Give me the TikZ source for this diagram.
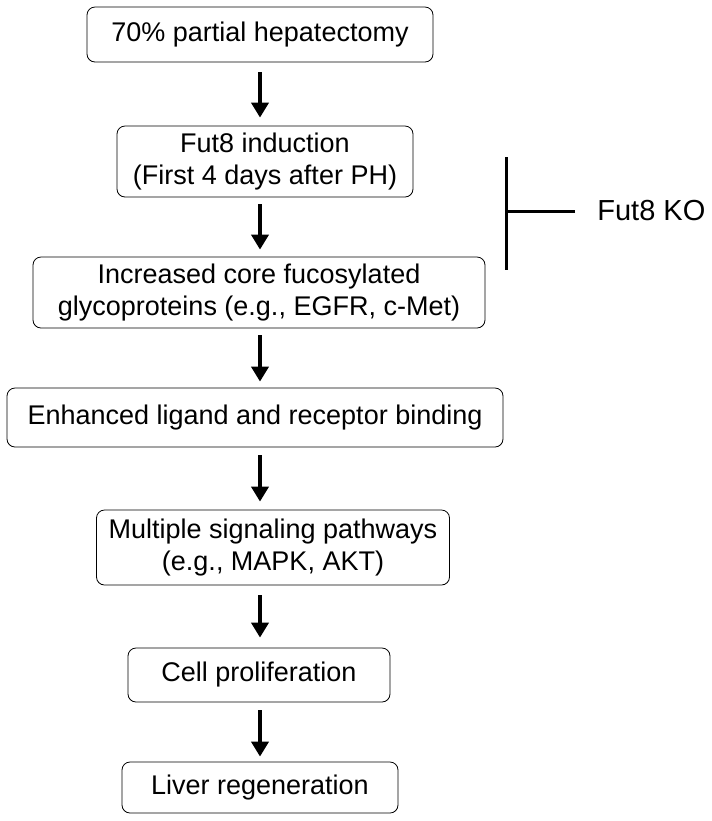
\documentclass[tikz,border=0pt]{standalone}
\usepackage{fontspec}
\setmainfont{Liberation Sans}
\usetikzlibrary{arrows.meta, positioning}
\tikzset{
	stepbox/.style={draw, thin, rounded corners=4pt, align=center, inner sep=2pt, font=\fontsize{13.5}{16}\selectfont},
	flow/.style={-{Triangle[length=7.5pt, width=8.5pt]}, line width=2pt},
	block/.style={line width=1.5pt},
}

\begin{document}
\begin{tikzpicture}[x=0.5pt, y=-0.5pt]

\useasboundingbox (0,0) rectangle (712,821);

\node[stepbox, minimum width=173pt, minimum height=27.5pt] (hep) at (260,34.5) {70\% partial hepatectomy};
\node[stepbox, minimum width=148pt, minimum height=35.5pt] (ind) at (265,161.5) {Fut8 induction\\ (First 4 days after PH)};
\node[stepbox, minimum width=226pt, minimum height=35.5pt] (fuc) at (259,292.5) {Increased core fucosylated\\glycoproteins (e.g., EGFR, c-Met)};
\node[stepbox, minimum width=248pt, minimum height=29.5pt] (bind) at (255,417.5) {Enhanced ligand and receptor binding};
\node[stepbox, minimum width=176.5pt, minimum height=37.5pt] (sig) at (273,547.5) {Multiple signaling pathways\\(e.g., MAPK, AKT)};
\node[stepbox, minimum width=131pt, minimum height=27pt] (prol) at (259,675) {Cell proliferation};
\node[stepbox, minimum width=138pt, minimum height=25.5pt] (reg) at (260,787.5) {Liver regeneration};

\coordinate (ax) at (260,0);
\draw[flow, shorten <=5pt, shorten >=4pt] (hep.south -| ax) -- (ind.north -| ax);
\draw[flow, shorten <=3.5pt, shorten >=3.5pt] (ind.south -| ax) -- (fuc.north -| ax);
\draw[flow, shorten <=3.5pt, shorten >=3pt] (fuc.south -| ax) -- (bind.north -| ax);
\draw[flow, shorten <=4pt, shorten >=4pt] (bind.south -| ax) -- (sig.north -| ax);
\draw[flow, shorten <=5pt, shorten >=5pt] (sig.south -| ax) -- (prol.north -| ax);
\draw[flow, shorten <=4pt, shorten >=2.5pt] (prol.south -| ax) -- (reg.north -| ax);

% knockout blocks the induction step
\node[anchor=west, inner sep=0pt, font=\fontsize{14.5}{17}\selectfont] (ko) at (597,211) {Fut8 KO};
\coordinate (bartop) at (506,157);
\coordinate (barbot) at (506,270);
\draw[block] (bartop) -- (barbot);
\draw[block, shorten <=11pt] (ko.west) -- (ko.west -| bartop);

\end{tikzpicture}
\end{document}
